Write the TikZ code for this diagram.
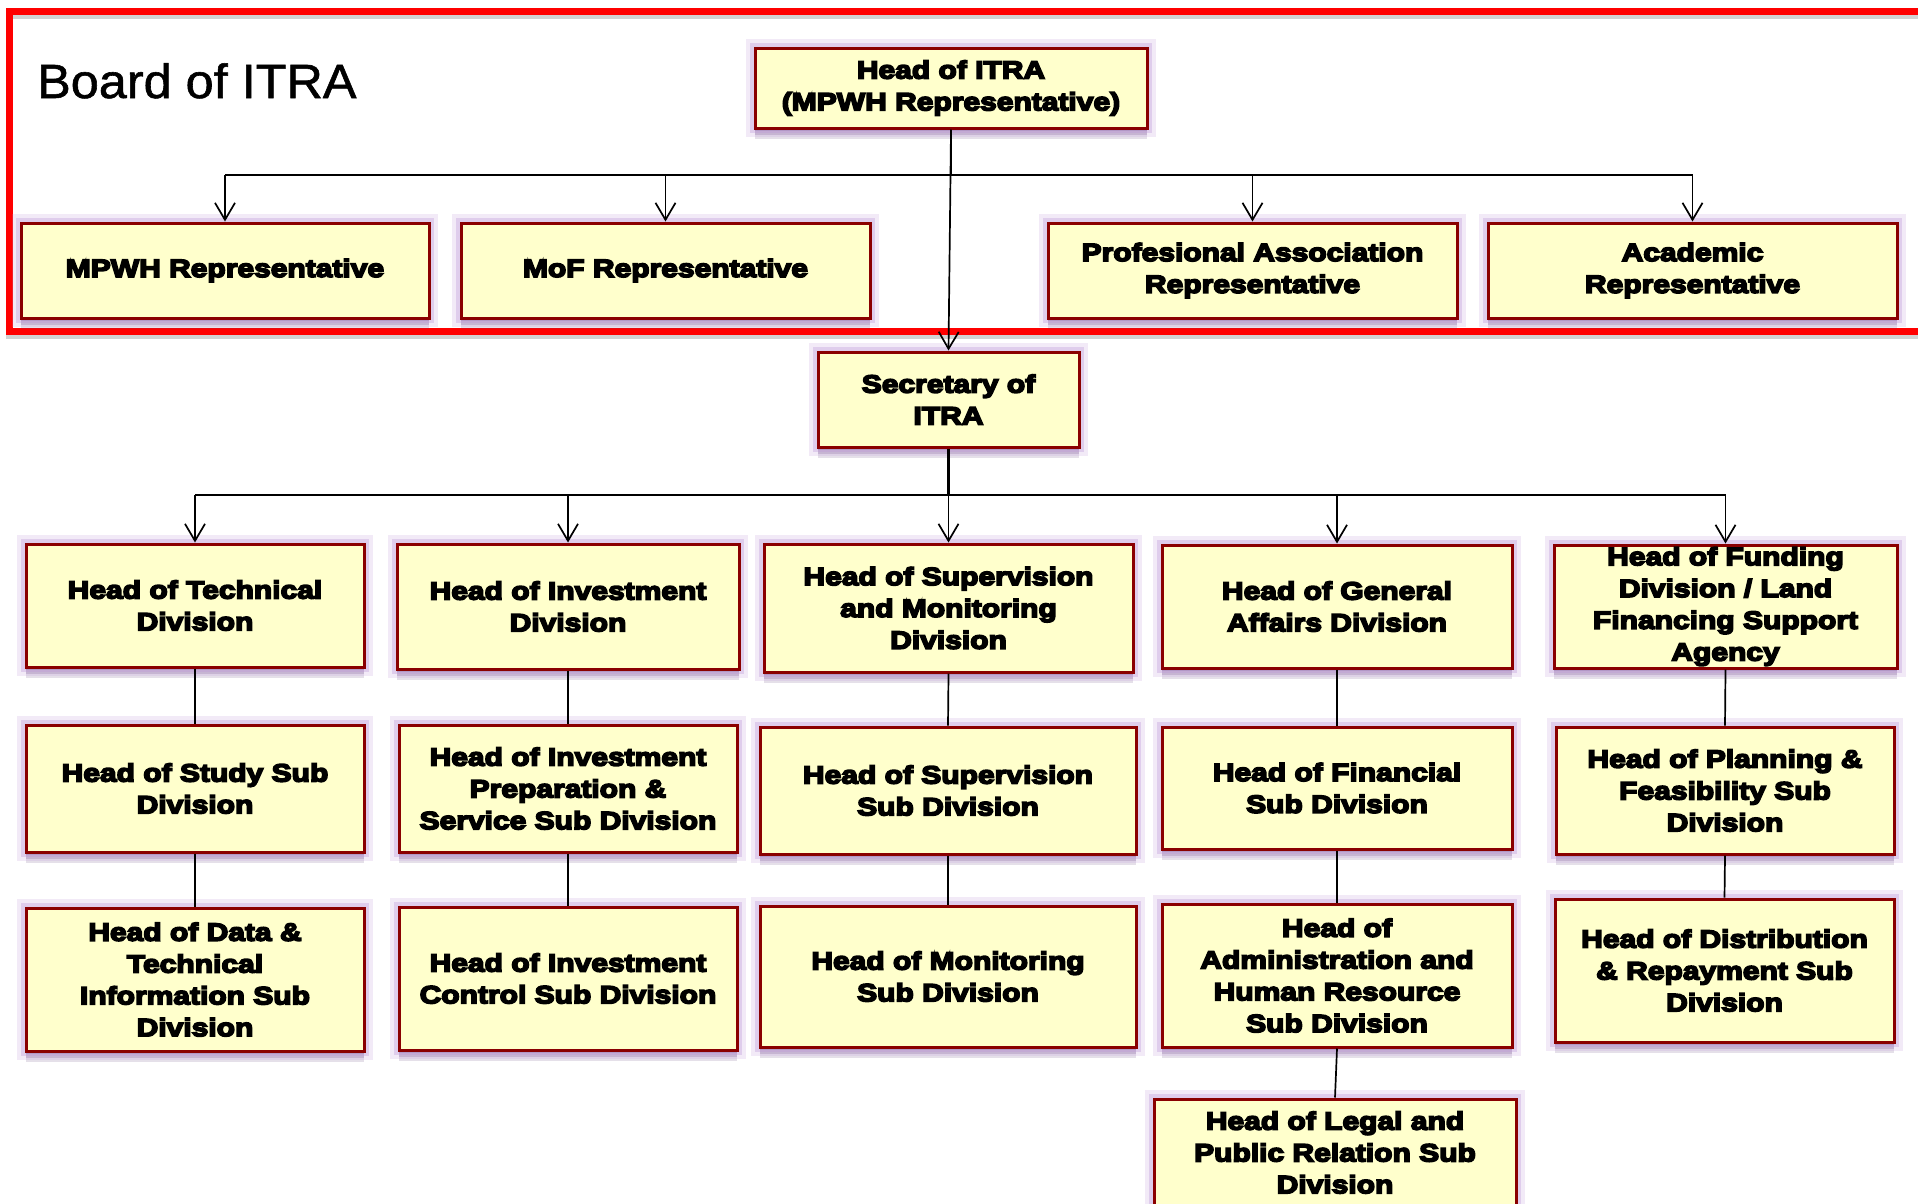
\documentclass[tikz,border=0pt]{standalone}
\usepackage{fontspec}
\usetikzlibrary{arrows.meta,shadows}
\newfontfamily\bxfont{Liberation Sans Bold}[FakeStretch=1.2,FakeBold=6.5]
\newfontfamily\ttlfont{Liberation Sans}[FakeStretch=1.05,FakeBold=1.2]
\definecolor{boxfill}{HTML}{FFFFCC}
\definecolor{boxred}{HTML}{8A0000}
\definecolor{glowc}{HTML}{BE98DA}
\definecolor{shadc}{HTML}{634478}
\definecolor{framered}{HTML}{FF0000}
\tikzset{
  orgbox/.style={draw=boxred, line width=3pt, fill=boxfill, inner sep=0pt, align=center,
    font=\bxfont\fontsize{25}{31.8}\selectfont,
    drop shadow={shadow xshift=0pt, shadow yshift=-11pt, opacity=.16, fill=shadc},
    drop shadow={shadow xshift=0pt, shadow yshift=-7pt, opacity=.22, fill=shadc},
    drop shadow={shadow xshift=0pt, shadow yshift=-3pt, opacity=.3, fill=shadc},
    preaction={draw=glowc, line width=18pt, draw opacity=.2},
    preaction={draw=glowc, line width=10pt, draw opacity=.35}},
  busline/.style={line width=2.6pt, black},
  arrline/.style={line width=1.7pt, black, -{Straight Barb[length=17pt,width=20pt,line width=1.7pt]}},
  plainline/.style={line width=1.7pt, black}
}
\newcommand{\bx}[6]{%
  \node[orgbox, minimum width={(#4-#2)*1pt}, minimum height={(#5-#3)*1pt}] (#1) at ({(#2+#4)/2},{(#3+#5)/2}) {#6};}
\begin{document}
\begin{tikzpicture}[x=1pt,y=-1pt]
\useasboundingbox (0,0) rectangle (1918,1203);
\clip (0,0) rectangle (1918,1203);
\fill[white] (0,0) rectangle (1918,1203);
% board frame
\draw[line width=7pt, black!35, opacity=.5] (9.5,15.5) rectangle (1960,335);
\draw[line width=7pt, framered] (9.5,11.5) rectangle (1960,331);
\node[anchor=base west, font=\ttlfont\fontsize{48}{56}\selectfont, inner sep=0pt] (title) at (37,98) {Board of ITRA};
% boxes
\bx{head}{755}{48}{1147}{128}{Head of ITRA\\(MPWH Representative)}
\bx{mpwh}{21}{223}{429}{318}{MPWH Representative}
\bx{mof}{461}{223}{870}{318}{MoF Representative}
\bx{prof}{1048}{223}{1457}{318}{Profesional Association\\Representative}
\bx{acad}{1488}{223}{1897}{318}{Academic\\Representative}
\bx{sec}{818}{352}{1079}{447}{Secretary of\\ITRA}
\bx{tech}{26}{544}{364}{667}{Head of Technical\\Division}
\bx{inv}{397}{544}{739}{669}{Head of Investment\\Division}
\bx{sup}{764}{544}{1133}{672}{Head of Supervision\\and Monitoring\\Division}
\bx{gen}{1162}{545}{1512}{668}{Head of General\\Affairs Division}
\bx{fund}{1554}{545}{1897}{668}{Head of Funding\\Division / Land\\Financing Support\\Agency}
\bx{study}{26}{725}{364}{852}{Head of Study Sub\\Division}
\bx{prep}{399}{725}{737}{852}{Head of Investment\\Preparation \&\\Service Sub Division}
\bx{supsub}{760}{727}{1136}{854}{Head of Supervision\\Sub Division}
\bx{fin}{1162}{727}{1512}{849}{Head of Financial\\Sub Division}
\bx{plan}{1556}{727}{1894}{854}{Head of Planning \&\\Feasibility Sub\\Division}
\bx{data}{26}{908}{364}{1051}{Head of Data \&\\Technical\\Information Sub\\Division}
\bx{ctrl}{399}{907}{737}{1050}{Head of Investment\\Control Sub Division}
\bx{mon}{760}{906}{1136}{1047}{Head of Monitoring\\Sub Division}
\bx{adm}{1162}{904}{1512}{1047}{Head of\\Administration and\\Human Resource\\Sub Division}
\bx{dist}{1555}{899}{1894}{1042}{Head of Distribution\\\& Repayment Sub\\Division}
\bx{legal}{1154}{1099}{1516}{1206}{Head of Legal and\\Public Relation Sub\\Division}
% connectors
\coordinate (busA) at (0,175);
\coordinate (busB) at (0,495);
\draw[busline] (head.south) -- (head.south |- busA);
\draw[busline] (mpwh.north |- busA) -- (acad.north |- busA);
\foreach \n in {mpwh,mof,prof,acad} \draw[arrline] (\n.north |- busA) -- (\n.north);
\draw[arrline] (head.south) -- (sec.north);
\draw[busline] (sec.south) -- (sec.south |- busB);
\draw[busline] (tech.north |- busB) -- (fund.north |- busB);
\foreach \n in {tech,inv,sup,gen,fund} \draw[arrline] (\n.north |- busB) -- (\n.north);
\draw[plainline] (tech.south) -- (study.north);
\draw[plainline] (study.south) -- (data.north);
\draw[plainline] (inv.south) -- (prep.north);
\draw[plainline] (prep.south) -- (ctrl.north);
\draw[plainline] (sup.south) -- (supsub.north);
\draw[plainline] (supsub.south) -- (mon.north);
\draw[plainline] (gen.south) -- (fin.north);
\draw[plainline] (fin.south) -- (adm.north);
\draw[plainline] (adm.south) -- (legal.north);
\draw[plainline] (fund.south) -- (plan.north);
\draw[plainline] (plan.south) -- (dist.north);
\end{tikzpicture}
\end{document}
